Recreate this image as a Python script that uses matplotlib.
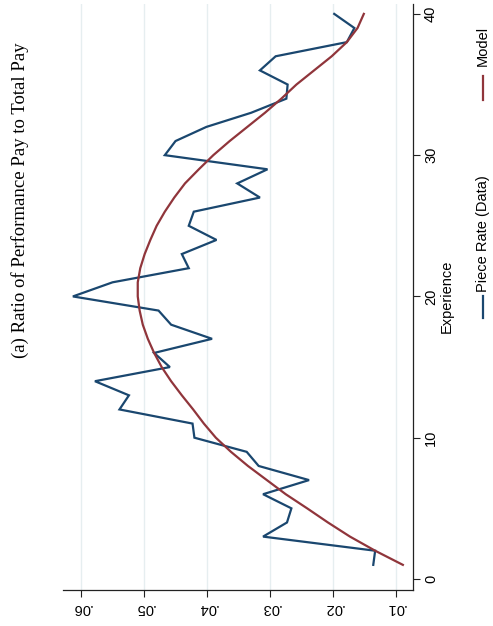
import numpy as np
import matplotlib.pyplot as plt
from matplotlib.lines import Line2D

# ---------------------------------------------------------
# data
# ---------------------------------------------------------
experience = list(range(1, 41))

piece_rate = [
    0.0136, 0.0133, 0.0311, 0.0273, 0.0266, 0.0311, 0.0238, 0.0318, 0.0337, 0.0420,
    0.0423, 0.0539, 0.0524, 0.0578, 0.0459, 0.0484, 0.0392, 0.0457, 0.0477, 0.0613,
    0.0550, 0.0429, 0.0440, 0.0385, 0.0429, 0.0421, 0.0316, 0.0352, 0.0304, 0.0467,
    0.0450, 0.0401, 0.0330, 0.0274, 0.0272, 0.0316, 0.0291, 0.0178, 0.0166, 0.0198,
]

model = [
    0.0089, 0.0133, 0.0173, 0.0208, 0.0241, 0.0275, 0.0305, 0.0335, 0.0362, 0.0386,
    0.0405, 0.0422, 0.0440, 0.0457, 0.0472, 0.0484, 0.0494, 0.0502, 0.0507, 0.0510,
    0.0510, 0.0506, 0.0499, 0.0490, 0.0480, 0.0467, 0.0452, 0.0435, 0.0413, 0.0390,
    0.0364, 0.0336, 0.0308, 0.0282, 0.0258, 0.0230, 0.0202, 0.0178, 0.0161, 0.0151,
]

value_ticks = [0.01, 0.02, 0.03, 0.04, 0.05, 0.06]
value_labels = [".01", ".02", ".03", ".04", ".05", ".06"]
exp_ticks = [0, 10, 20, 30, 40]

BLUE = "#1a476f"
RED = "#90353b"
GRID = "#e6eef0"

# ---------------------------------------------------------
# figure: the landscape Stata graph is shown turned 90° CCW
# ---------------------------------------------------------
W, H = 493, 626
fig = plt.figure(figsize=(W / 100, H / 100), dpi=100)
ax = fig.add_axes([63 / W, (H - 590) / H, (413 - 63) / W, (590 - 4) / H])

ax.plot(piece_rate, experience, color=BLUE, lw=1.6, solid_joinstyle="miter", zorder=3)
ax.plot(model, experience, color=RED, lw=1.6, zorder=3)

ax.set_xlim(0.06287, 0.00729)
ax.set_ylim(-0.78, 40.7)

ax.set_xticks(value_ticks)
ax.set_xticklabels(value_labels, rotation=180, fontfamily="Liberation Sans", fontsize=10.5)
ax.set_yticks(exp_ticks)
ax.set_yticklabels([str(t) for t in exp_ticks], rotation=90, va="center",
                   fontfamily="Liberation Sans", fontsize=10.5)
ax.yaxis.tick_right()
ax.tick_params(axis="both", length=5, width=0.8, color="#222222", pad=3)

for s in ["left", "top"]:
    ax.spines[s].set_visible(False)
for s in ["bottom", "right"]:
    ax.spines[s].set_color("#222222")
    ax.spines[s].set_linewidth(0.9)

ax.grid(axis="x", color=GRID, lw=1.0, zorder=0)
ax.set_axisbelow(True)

# axis title (rotated)
fig.text(447 / W, 1 - 296 / H, "Experience", rotation=90, ha="center", va="center",
         fontfamily="Liberation Sans", fontsize=10.5)

# title on the left
fig.text(20 / W, 1 - 200 / H, "(a) Ratio of Performance Pay to Total Pay", rotation=90,
         ha="center", va="center", fontfamily="Liberation Serif", fontsize=13.5)

# manual legend, turned with the figure
lx = 483 / W
fig.add_artist(Line2D([lx, lx], [1 - 318 / H, 1 - 296 / H], color=BLUE, lw=1.6,
                      transform=fig.transFigure))
fig.text(lx, 1 - 292 / H, "Piece Rate (Data)", rotation=90, ha="center", va="bottom",
         fontfamily="Liberation Sans", fontsize=10.5)
fig.add_artist(Line2D([lx, lx], [1 - 100 / H, 1 - 76 / H], color=RED, lw=1.6,
                      transform=fig.transFigure))
fig.text(lx, 1 - 66 / H, "Model", rotation=90, ha="center", va="bottom",
         fontfamily="Liberation Sans", fontsize=10.5)

fig.savefig("out.png", dpi=100)
